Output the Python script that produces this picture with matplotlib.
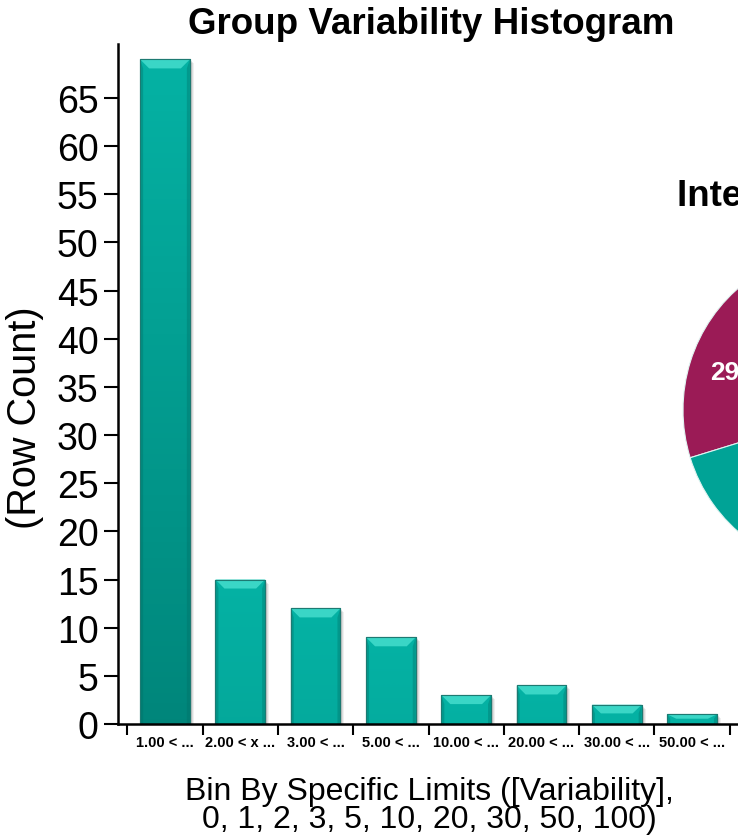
import numpy as np
import matplotlib
matplotlib.use("Agg")
import matplotlib.pyplot as plt
from matplotlib.colors import LinearSegmentedColormap
from matplotlib.patches import Polygon, Rectangle

# histogram bins and row counts
bins = ["1.00 < ...", "2.00 < x ...", "3.00 < ...", "5.00 < ...",
        "10.00 < ...", "20.00 < ...", "30.00 < ...", "50.00 < ..."]
row_counts = [69, 15, 12, 9, 3, 4, 2, 1]
y_ticks = list(range(0, 70, 5))

# second chart (pie), mostly cut off at the right edge
pie_labels = ["29", "122"]
pie_values = [29, 122]
pie_colors = ["#9b1b56", "#00a396"]

plt.rcParams["font.family"] = ["Liberation Sans", "DejaVu Sans"]


def main():
    fig = plt.figure(figsize=(7.38, 8.37), dpi=100)
    W, H = 738.0, 837.0

    # 1) histogram axes
    ax = fig.add_axes([118 / W, 112 / H, 620 / W, 680 / H])
    x = np.arange(len(bins))
    bars = ax.bar(x, row_counts, width=0.66, color="#00a597",
                  edgecolor="#1d7a72", linewidth=0.8, zorder=3)
    ax.set_xlim(-0.624, -0.624 + 620 / 75.3)
    ax.set_ylim(0, 70.6)

    # pixel size in data units (for bevel / shadow)
    bb = ax.get_window_extent()
    px_x = (ax.get_xlim()[1] - ax.get_xlim()[0]) / bb.width
    px_y = (ax.get_ylim()[1] - ax.get_ylim()[0]) / bb.height
    ytop = ax.get_ylim()[1]

    cmap = LinearSegmentedColormap.from_list("teal", ["#05b2a4", "#00857a"])
    for rect, h in zip(bars, row_counts):
        x0, w = rect.get_x(), rect.get_width()
        # soft drop shadow
        for k, a in [(4, 0.06), (3, 0.08), (2, 0.1)]:
            ax.add_patch(Rectangle((x0 + k * px_x, -k * px_y), w, h,
                                   color="black", alpha=a, lw=0, zorder=2))
        # vertical gradient, darker the farther from the bar top
        grad = np.linspace(0, h / ytop, 128)[:, None]
        im = ax.imshow(grad, cmap=cmap, vmin=0, vmax=1, aspect="auto",
                       origin="upper", extent=[x0, x0 + w, 0, h], zorder=3.5)
        im.set_clip_path(rect)
        # bevel: lighter top trapezoid, darker thin sides
        bx = 9 * px_x
        by = min(9 * px_y, h * 0.45)
        ax.add_patch(Polygon([(x0, h), (x0 + w, h), (x0 + w - bx, h - by), (x0 + bx, h - by)],
                             closed=True, color="#3ad6c6", lw=0, zorder=4))
        sx = 3 * px_x
        ax.add_patch(Polygon([(x0, h), (x0 + sx, h - by), (x0 + sx, 0), (x0, 0)],
                             closed=True, color="#006e65", alpha=0.35, lw=0, zorder=4))
        ax.add_patch(Polygon([(x0 + w, h), (x0 + w - sx, h - by), (x0 + w - sx, 0), (x0 + w, 0)],
                             closed=True, color="#006e65", alpha=0.35, lw=0, zorder=4))
        ax.add_patch(Rectangle((x0, 0), w, h, fill=False, edgecolor="#1d7a72",
                               lw=0.8, zorder=4.5))

    ax.set_xlim(-0.624, -0.624 + 620 / 75.3)
    ax.set_ylim(0, 70.6)

    # axes styling
    for s in ["top", "right"]:
        ax.spines[s].set_visible(False)
    for s in ["left", "bottom"]:
        ax.spines[s].set_linewidth(1.8)
        ax.spines[s].set_zorder(5)
    ax.set_yticks(y_ticks)
    ax.tick_params(axis="y", length=10, width=1.5, labelsize=27, pad=4)
    ax.set_xticks(x)
    ax.set_xticklabels(bins, fontsize=10.5, fontweight="bold",
                       family=["Liberation Sans Narrow", "Liberation Sans"])
    ax.tick_params(axis="x", which="major", length=0, pad=8)
    ax.set_xticks(np.arange(len(bins) + 1) - 0.5, minor=True)
    ax.tick_params(axis="x", which="minor", length=8, width=1.5)

    ax.set_ylabel("(Row Count)", fontsize=28.5)
    ax.yaxis.set_label_coords(-0.15, 0.452)
    ax.yaxis.label.set_va("center")
    ax.set_xlabel("Bin By Specific Limits ([Variability],\n0, 1, 2, 3, 5, 10, 20, 30, 50, 100)",
                  fontsize=23, linespacing=0.95)
    ax.xaxis.set_label_coords((429 - 118) / 620, (725 - 806) / 680)
    ax.xaxis.label.set_va("center")

    fig.text(431 / W, 1 - 34 / H, "Group Variability Histogram", ha="center",
             va="baseline", fontsize=26.5, fontweight="bold")

    # 2) pie chart, mostly outside the figure
    ax2 = fig.add_axes([683 / W, (837 - 411 - 162) / H, 324 / W, 324 / H])
    wedges, texts = ax2.pie(pie_values, colors=pie_colors, startangle=128,
                            labels=pie_labels, labeldistance=0.78,
                            wedgeprops=dict(edgecolor="#e0f4f1", linewidth=0.8),
                            textprops=dict(color="white", fontsize=19, fontweight="bold"))
    for t in texts:
        t.set_ha("center")
        t.set_va("center")
    ax2.set_xlim(-1, 1)
    ax2.set_ylim(-1, 1)

    fig.text(677 / W, 1 - 197 / H, "Interval Variability", ha="left", va="center",
             fontsize=26.5, fontweight="bold")

    fig.savefig("out.png", dpi=100)
    plt.close(fig)


if __name__ == "__main__":
    main()
